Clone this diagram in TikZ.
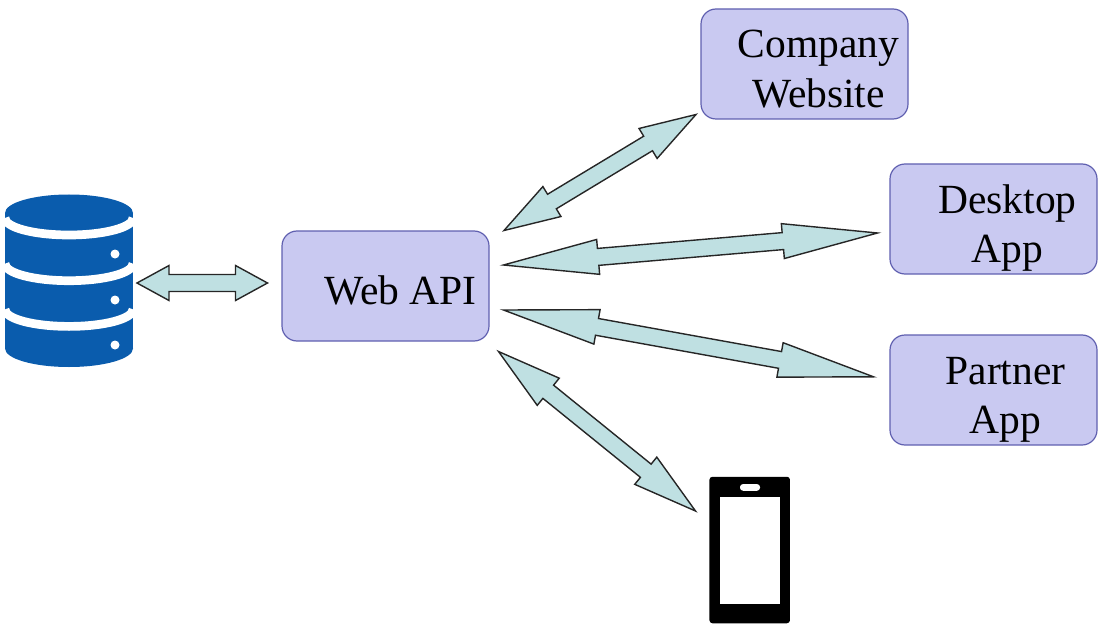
\documentclass[tikz,border=0pt]{standalone}
\usepackage{fontspec}
\setmainfont{Liberation Serif}
\usetikzlibrary{positioning, calc}
\definecolor{boxfill}{HTML}{C9C9F1}
\definecolor{boxline}{HTML}{6060B0}
\definecolor{linkfill}{HTML}{BFE0E2}
\definecolor{dbblue}{HTML}{0A5CAD}
\newcommand{\linkarrow}[3]{%
  \draw[link] (#1) -- ($(#1)!#3!(#2)!17.5pt!90:(#2)$) -- ($(#1)!#3!(#2)!8.5pt!90:(#2)$)
    -- ($(#2)!#3!(#1)!8.5pt!-90:(#1)$) -- ($(#2)!#3!(#1)!17.5pt!-90:(#1)$) -- (#2)
    -- ($(#2)!#3!(#1)!17.5pt!90:(#1)$) -- ($(#2)!#3!(#1)!8.5pt!90:(#1)$)
    -- ($(#1)!#3!(#2)!8.5pt!-90:(#2)$) -- ($(#1)!#3!(#2)!17.5pt!-90:(#2)$) -- cycle;}
\begin{document}
\begin{tikzpicture}[x=1pt, y=-1pt,
    appbox/.style={draw=boxline, fill=boxfill, line width=1.2pt, rounded corners=15pt,
      minimum width=207pt, minimum height=110pt, outer sep=0pt},
    apptext/.style={align=center, font=\fontsize{41.5}{49.5}\selectfont, inner sep=0pt},
    link/.style={draw=black!85, fill=linkfill, line width=1.4pt, line join=miter}]
  \useasboundingbox (0,0) rectangle (1105,631);
  % boxes
  \node[appbox] (web) at (385.5,286) {};
  \node[appbox, above right=112pt and 212pt of web] (company) {};
  \node[appbox, below right=45pt and -18pt of company] (desktop) {};
  \node[appbox, below=61pt of desktop] (partner) {};
  \node[apptext] (webtext) at ([xshift=15pt, yshift=-4pt]web.center) {Web API};
  \node[apptext] (companytext) at ([xshift=14pt, yshift=-5pt]company.center) {Company\\Website};
  \node[apptext] (desktoptext) at ([xshift=14pt, yshift=-9pt]desktop.center) {Desktop\\App};
  \node[apptext] (partnertext) at ([xshift=12pt, yshift=-10pt]partner.center) {Partner\\App};
  % database
  \fill[dbblue] (5,213) rectangle (133,348.5);
  \fill[dbblue] (69,213) ellipse[x radius=64, y radius=18.5];
  \fill[dbblue] (69,348.5) ellipse[x radius=64, y radius=18.5];
  \foreach \y in {218, 263.7, 309.4}
    \draw[white, line width=8.7pt] (5,\y) arc[start angle=180, end angle=0, x radius=64, y radius=17];
  \foreach \y in {254, 300, 345}
    \fill[white] (115,\y) circle[radius=4.5];
  % phone
  \node[fill=black, rounded corners=3pt, minimum width=80.5pt, minimum height=146.5pt, inner sep=0pt] (phone) at (749.7,550) {};
  \node[fill=white, minimum width=60pt, minimum height=107.5pt, inner sep=0pt] (screen) at (750,550.5) {};
  \node[fill=white, rounded corners=3pt, minimum width=20pt, minimum height=6.7pt, inner sep=0pt] (speaker) at (750,487.4) {};
  % arrow ends
  \coordinate (dbend) at (137,283);
  \coordinate (webw) at (267.5,283);
  \coordinate (webc) at (504,230.5);
  \coordinate (companyend) at (696,114.5);
  \coordinate (webd) at (503.5,265);
  \coordinate (desktopend) at (877.5,233);
  \coordinate (webp) at (503.5,310);
  \coordinate (partnerend) at (873.5,376.8);
  \coordinate (webm) at (498.5,351.5);
  \coordinate (phoneend) at (695.5,511);
  \linkarrow{dbend}{webw}{32pt}
  \linkarrow{webc}{companyend}{56pt}
  \linkarrow{webd}{desktopend}{95pt}
  \linkarrow{webp}{partnerend}{95pt}
  \linkarrow{webm}{phoneend}{64pt}
\end{tikzpicture}
\end{document}
